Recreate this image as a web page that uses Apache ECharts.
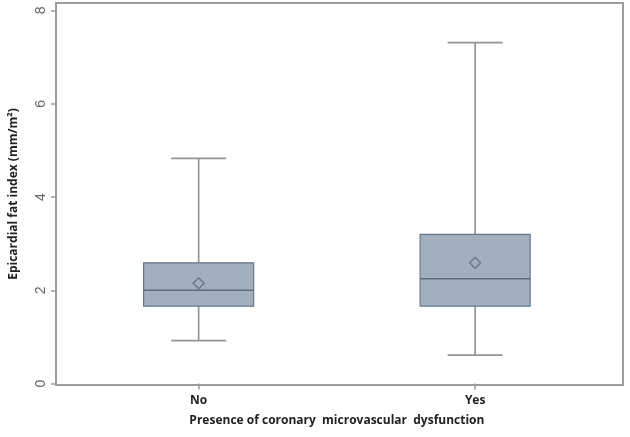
<!DOCTYPE html>
<html>
<head>
<meta charset="utf-8">
<script src="https://cdn.jsdelivr.net/npm/echarts@6/dist/echarts.min.js"></script>
<style>html,body{margin:0;padding:0;background:#fff}#c{width:630px;height:437px}</style>
</head>
<body>
<div id="c"></div>
<script>
// Data
const categories = ['No', 'Yes'];
const whiskerLow = [0.92, 0.61];
const q1 = [1.66, 1.66];
const median = [2.00, 2.25];
const q3 = [2.59, 3.20];
const whiskerHigh = [4.83, 7.31];
const mean = [2.15, 2.59];
const yTicks = [0, 2, 4, 6, 8];

const data = categories.map((c, i) => [i, whiskerLow[i], q1[i], median[i], q3[i], whiskerHigh[i], mean[i]]);

const chart = echarts.init(document.getElementById('c'));
const boxFill = '#a2afbf';
const boxEdge = '#67778a';
const whisk = '#959595';

function renderItem(params, api) {
  const x = api.value(0);
  const pLow = api.coord([x, api.value(1)]);
  const pQ1 = api.coord([x, api.value(2)]);
  const pMed = api.coord([x, api.value(3)]);
  const pQ3 = api.coord([x, api.value(4)]);
  const pHigh = api.coord([x, api.value(5)]);
  const pMean = api.coord([x, api.value(6)]);
  const band = api.size([1, 0])[0];
  const bw = band * 0.398;
  const cap = bw / 2;
  const cx = pMed[0];
  const d = 5.5;
  const ls = { stroke: whisk, lineWidth: 1.7 };
  return {
    type: 'group',
    children: [
      { type: 'line', shape: { x1: cx, y1: pHigh[1], x2: cx, y2: pQ3[1] }, style: ls },
      { type: 'line', shape: { x1: cx, y1: pQ1[1], x2: cx, y2: pLow[1] }, style: ls },
      { type: 'line', shape: { x1: cx - cap / 2, y1: pHigh[1], x2: cx + cap / 2, y2: pHigh[1] }, style: ls },
      { type: 'line', shape: { x1: cx - cap / 2, y1: pLow[1], x2: cx + cap / 2, y2: pLow[1] }, style: ls },
      { type: 'rect', shape: { x: cx - bw / 2, y: pQ3[1], width: bw, height: pQ1[1] - pQ3[1] },
        style: { fill: boxFill, stroke: boxEdge, lineWidth: 1.2 } },
      { type: 'line', shape: { x1: cx - bw / 2, y1: pMed[1], x2: cx + bw / 2, y2: pMed[1] },
        style: { stroke: '#5d6c7e', lineWidth: 1.5 } },
      { type: 'polygon', shape: { points: [[cx, pMean[1] - d], [cx + d, pMean[1]], [cx, pMean[1] + d], [cx - d, pMean[1]]] },
        style: { fill: 'none', stroke: '#66768a', lineWidth: 1.3 } }
    ]
  };
}

chart.setOption({
  animation: false,
  grid: [
    { left: 47, right: 7, top: 3, bottom: 52, show: true, borderColor: '#9c9c9c', borderWidth: 2, backgroundColor: 'transparent' },
    { left: 60.4, right: 16.6, top: 3, bottom: 52 }
  ],
  xAxis: [
    { gridIndex: 0, type: 'value', show: false, min: 0, max: 1 },
    { gridIndex: 1, type: 'category', data: categories,
      axisLine: { show: false },
      axisTick: { show: true, alignWithLabel: true, length: 6, lineStyle: { color: '#9c9c9c', width: 1.5 } },
      axisLabel: { color: '#222', fontWeight: 'bold', fontSize: 12, fontFamily: 'Open Sans', margin: 10 },
      name: 'Presence of coronary  microvascular  dysfunction', nameLocation: 'middle', nameGap: 30,
      nameMoveOverlap: false,
      nameTextStyle: { color: '#222', fontWeight: 'bold', fontSize: 12, fontFamily: 'Open Sans' }
    }
  ],
  yAxis: [
    { gridIndex: 0, type: 'value', min: -0.03, max: 8.16,
      axisLine: { show: false },
      splitLine: { show: false },
      axisTick: { show: true, length: 5, customValues: yTicks, lineStyle: { color: '#9c9c9c', width: 1.5 } },
      axisLabel: { customValues: yTicks, rotate: 90, color: '#666', fontSize: 14, fontFamily: 'Liberation Sans', margin: 8 },
      name: 'Epicardial fat index (mm/m²)', nameLocation: 'middle', nameGap: 36,
      nameMoveOverlap: false,
      nameTextStyle: { color: '#222', fontWeight: 'bold', fontSize: 12, fontFamily: 'Open Sans' }
    },
    { gridIndex: 1, type: 'value', min: -0.03, max: 8.16, show: false }
  ],
  series: [{
    type: 'custom',
    xAxisIndex: 1,
    yAxisIndex: 1,
    renderItem: renderItem,
    encode: { x: 0, y: [1, 2, 3, 4, 5, 6] },
    data: data
  }]
});
</script>
</body>
</html>
